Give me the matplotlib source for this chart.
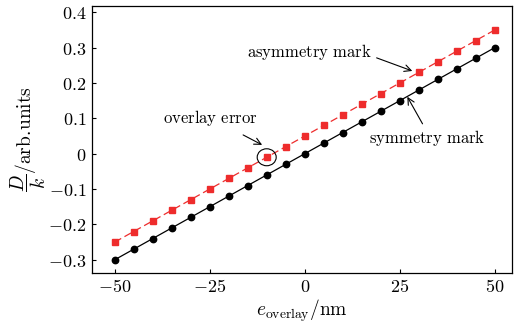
import numpy as np
import matplotlib
matplotlib.use('Agg')
import matplotlib.pyplot as plt
from matplotlib.patches import Ellipse

plt.rcParams['mathtext.fontset'] = 'cm'
plt.rcParams['font.family'] = 'serif'
plt.rcParams['font.serif'] = ['DejaVu Serif']

# overlay error (nm)
e_overlay = [-50, -45, -40, -35, -30, -25, -20, -15, -10, -5, 0,
             5, 10, 15, 20, 25, 30, 35, 40, 45, 50]
# D/k for symmetry mark (black) and asymmetry mark (red)
symmetry = [-0.30, -0.27, -0.24, -0.21, -0.18, -0.15, -0.12, -0.09, -0.06, -0.03, 0.00,
            0.03, 0.06, 0.09, 0.12, 0.15, 0.18, 0.21, 0.24, 0.27, 0.30]
asymmetry = [-0.25, -0.22, -0.19, -0.16, -0.13, -0.10, -0.07, -0.04, -0.01, 0.02, 0.05,
             0.08, 0.11, 0.14, 0.17, 0.20, 0.23, 0.26, 0.29, 0.32, 0.35]

xticks = [-50, -25, 0, 25, 50]
xticklabels = [r'$-50$', r'$-25$', r'$0$', r'$25$', r'$50$']
yticks = [-0.3, -0.2, -0.1, 0, 0.1, 0.2, 0.3, 0.4]
yticklabels = [r'$-0.3$', r'$-0.2$', r'$-0.1$', r'$0$', r'$0.1$', r'$0.2$', r'$0.3$', r'$0.4$']

fig = plt.figure(figsize=(5.16, 3.28), dpi=100)
ax = fig.add_axes([0.178, 0.168, 0.814, 0.814])

ax.plot(e_overlay, asymmetry, color='#ee2c2c', linestyle=(0, (6, 3)), lw=0.9,
        marker='s', markersize=4.2, zorder=3)
ax.plot(e_overlay, symmetry, color='black', lw=0.9,
        marker='o', markersize=4.6, zorder=3)

# circle around the highlighted point
ax.add_patch(Ellipse((-10, -0.01), 5.0, 0.048, fill=False, edgecolor='black', lw=0.8, zorder=4))

ax.annotate(r'$\mathrm{overlay\ error}$', xy=(-11.2, 0.025), xytext=(-24.9, 0.102),
            ha='center', va='center', fontsize=12,
            arrowprops=dict(arrowstyle='->', lw=0.8, color='black', shrinkA=7, shrinkB=0))
ax.annotate(r'$\mathrm{asymmetry\ mark}$', xy=(28.3, 0.234), xytext=(17.5, 0.288),
            ha='right', va='center', fontsize=12,
            arrowprops=dict(arrowstyle='->', lw=0.8, color='black', shrinkA=2, shrinkB=0,
                            relpos=(1.0, 0.3)))
ax.annotate(r'$\mathrm{symmetry\ mark}$', xy=(27.0, 0.161), xytext=(32.2, 0.045),
            ha='center', va='center', fontsize=12,
            arrowprops=dict(arrowstyle='->', lw=0.8, color='black', shrinkA=1, shrinkB=0,
                            relpos=(0.48, 1.0)))

ax.set_xlim(-56, 54.5)
ax.set_ylim(-0.337, 0.418)
ax.set_xticks(xticks)
ax.set_xticklabels(xticklabels, fontsize=13)
ax.set_yticks(yticks)
ax.set_yticklabels(yticklabels, fontsize=13)
ax.tick_params(direction='in', length=3, width=0.8, top=False, right=False, pad=4)
for s in ax.spines.values():
    s.set_linewidth(0.9)

ax.set_xlabel(r'$e_{\mathrm{overlay}}\mathrm{/nm}$', fontsize=14, labelpad=1)
ax.set_ylabel(r'$\dfrac{D}{k}\mathrm{/arb.\!units}$', fontsize=14, labelpad=0)

plt.savefig('out.png', dpi=100)
plt.close()
